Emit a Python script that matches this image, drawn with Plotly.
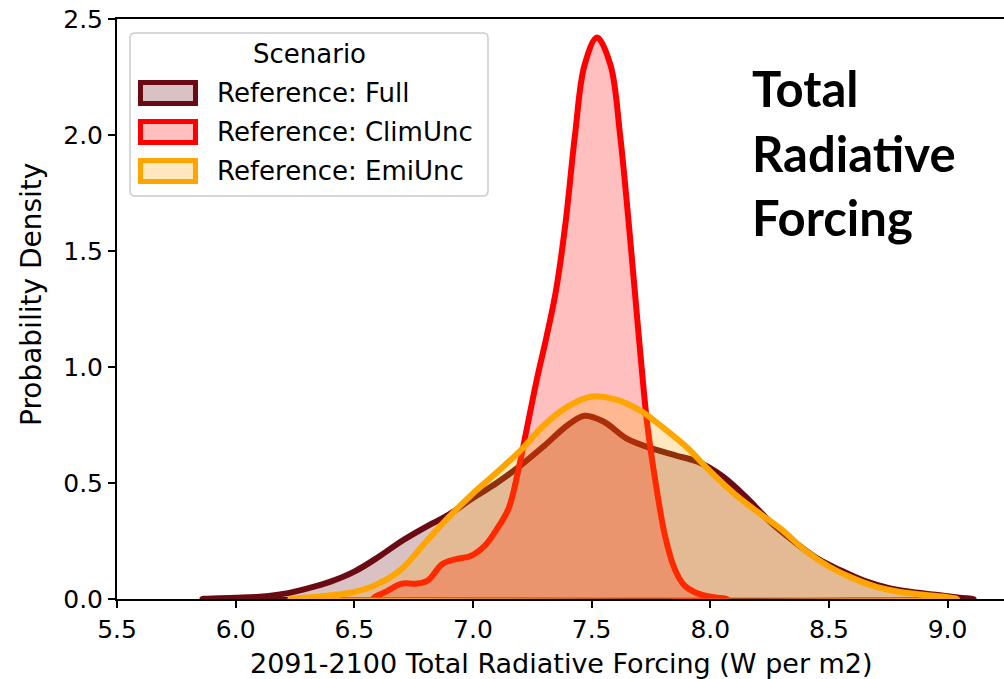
import plotly.graph_objects as go

# ---- data ----
full_x = [5.86, 6.0, 6.1, 6.2, 6.3, 6.4, 6.5, 6.6, 6.7, 6.8, 6.9, 7.0, 7.1, 7.2, 7.3, 7.4, 7.47,
          7.55, 7.65, 7.75, 7.85, 7.95, 8.05, 8.15, 8.25, 8.35, 8.45, 8.55, 8.65, 8.75, 8.85, 8.95, 9.05, 9.11]
full_y = [0.0, 0.005, 0.01, 0.022, 0.045, 0.075, 0.118, 0.18, 0.25, 0.31, 0.365, 0.435, 0.50, 0.575, 0.66, 0.75, 0.79,
          0.765, 0.69, 0.65, 0.62, 0.59, 0.53, 0.44, 0.335, 0.25, 0.175, 0.123, 0.078, 0.048, 0.03, 0.018, 0.006, 0.0]

clim_x = [6.58, 6.64, 6.70, 6.76, 6.81, 6.87, 6.93, 6.99, 7.05, 7.10, 7.15, 7.19, 7.23, 7.27, 7.31, 7.35, 7.39,
          7.43, 7.47, 7.523, 7.58, 7.62, 7.66, 7.70, 7.735, 7.77, 7.81, 7.85, 7.89, 7.94, 8.0, 8.07]
clim_y = [0.0, 0.035, 0.066, 0.066, 0.08, 0.15, 0.172, 0.185, 0.23, 0.30, 0.39, 0.55, 0.75, 0.95, 1.13, 1.33, 1.62,
          2.0, 2.3, 2.42, 2.3, 2.0, 1.58, 1.12, 0.75, 0.5, 0.27, 0.13, 0.06, 0.027, 0.01, 0.0]

emi_x = [6.23, 6.3, 6.4, 6.5, 6.6, 6.7, 6.8, 6.9, 7.0, 7.1, 7.2, 7.3, 7.4, 7.5, 7.6,
         7.7, 7.8, 7.9, 8.0, 8.1, 8.2, 8.3, 8.4, 8.5, 8.6, 8.7, 8.8, 8.9, 9.0, 9.04]
emi_y = [0.0, 0.006, 0.016, 0.03, 0.065, 0.13, 0.245, 0.355, 0.455, 0.545, 0.64, 0.75, 0.83, 0.873, 0.86,
         0.815, 0.74, 0.655, 0.55, 0.455, 0.375, 0.30, 0.21, 0.14, 0.09, 0.052, 0.03, 0.018, 0.008, 0.0]

series_names = ["Reference: Full", "Reference: ClimUnc", "Reference: EmiUnc"]
series_colors = ["#6a0a12", "#ff0000", "#ffa500"]
series_fills = ["rgba(106,10,18,0.25)", "rgba(255,0,0,0.25)", "rgba(255,165,0,0.25)"]
legend_title = "Scenario"

x_ticks = [5.5, 6.0, 6.5, 7.0, 7.5, 8.0, 8.5, 9.0]
y_ticks = [0.0, 0.5, 1.0, 1.5, 2.0, 2.5]

# ---- layout geometry (pixels) ----
W, H = 1004, 679
L, R, T, B = 117, 1004, 19, 599


def px(xp):
    return (xp - L) / (R - L)


def py(yp):
    return (B - yp) / (B - T)


fig = go.Figure()
for xs, ys, name, col, fc in zip([full_x, clim_x, emi_x], [full_y, clim_y, emi_y],
                                 series_names, series_colors, series_fills):
    fig.add_trace(go.Scatter(
        x=list(xs) + [xs[0]], y=list(ys) + [0.0],
        mode="lines", fill="toself", fillcolor=fc,
        line=dict(color=col, width=6, shape="spline", smoothing=1.0),
        name=name, showlegend=False, hoverinfo="skip"))

TICKFONT = dict(family="DejaVu Sans", size=25, color="black")

fig.update_xaxes(range=[5.5, 5.5 + (R - L) / 237.3], tickvals=x_ticks,
                 ticktext=[f"{v:.1f}" for v in x_ticks],
                 showline=True, linecolor="black", linewidth=2, mirror=True,
                 ticks="outside", ticklen=7, tickwidth=1.6, tickcolor="black",
                 showgrid=False, zeroline=False, tickfont=TICKFONT)
fig.update_yaxes(range=[0, 2.5], tickvals=y_ticks,
                 ticktext=[f"{v:.1f}" for v in y_ticks],
                 showline=True, linecolor="black", linewidth=2,
                 ticks="outside", ticklen=7, tickwidth=1.6, tickcolor="black",
                 showgrid=False, zeroline=False, tickfont=TICKFONT)

shapes = []
annotations = []

# legend frame
x0, x1, y0, y1, r = 130, 488, 33, 196, 5
path = (f"M {px(x0 + r)},{py(y0)} L {px(x1 - r)},{py(y0)} Q {px(x1)},{py(y0)} {px(x1)},{py(y0 + r)} "
        f"L {px(x1)},{py(y1 - r)} Q {px(x1)},{py(y1)} {px(x1 - r)},{py(y1)} "
        f"L {px(x0 + r)},{py(y1)} Q {px(x0)},{py(y1)} {px(x0)},{py(y1 - r)} "
        f"L {px(x0)},{py(y0 + r)} Q {px(x0)},{py(y0)} {px(x0 + r)},{py(y0)} Z")
shapes.append(dict(type="path", xref="paper", yref="paper", path=path,
                   line=dict(color="#cccccc", width=1.5), fillcolor="rgba(255,255,255,0.8)", layer="above"))

annotations.append(dict(text=legend_title, xref="paper", yref="paper", x=px(309), y=py(54),
                        xanchor="center", yanchor="middle", showarrow=False,
                        font=dict(family="DejaVu Sans", size=26, color="black")))

row_centers = [93, 132, 171]
for name, col, fc, yc in zip(series_names, series_colors, series_fills, row_centers):
    shapes.append(dict(type="rect", xref="paper", yref="paper",
                       x0=px(140.5), x1=px(195.5), y0=py(yc - 10.5), y1=py(yc + 10.5),
                       line=dict(color=col, width=5), fillcolor=fc, layer="above"))
    annotations.append(dict(text=name, xref="paper", yref="paper", x=px(215), y=py(yc),
                            xanchor="left", yanchor="middle", showarrow=False,
                            font=dict(family="DejaVu Sans", size=26, color="black")))

# big label
for txt, yc in zip(["Total", "Radiative", "Forcing"], [88, 153, 217]):
    annotations.append(dict(text=f"<b>{txt}</b>", xref="paper", yref="paper", x=px(750), y=py(yc),
                            xanchor="left", yanchor="middle", showarrow=False,
                            font=dict(family="Lato", size=49, color="black")))

# axis titles
annotations.append(dict(text="2091-2100 Total Radiative Forcing (W per m2)", xref="paper", yref="paper",
                        x=px(561), y=py(663), xanchor="center", yanchor="middle", showarrow=False,
                        font=dict(family="DejaVu Sans", size=27, color="black")))
annotations.append(dict(text="Probability Density", xref="paper", yref="paper",
                        x=px(31), y=py(295), xanchor="center", yanchor="middle", showarrow=False,
                        textangle=-90, font=dict(family="DejaVu Sans", size=28, color="black")))

fig.update_layout(width=W, height=H, margin=dict(l=L, r=W - R, t=T, b=H - B),
                  plot_bgcolor="white", paper_bgcolor="white",
                  shapes=shapes, annotations=annotations, showlegend=False)

fig.write_html("out.html")
